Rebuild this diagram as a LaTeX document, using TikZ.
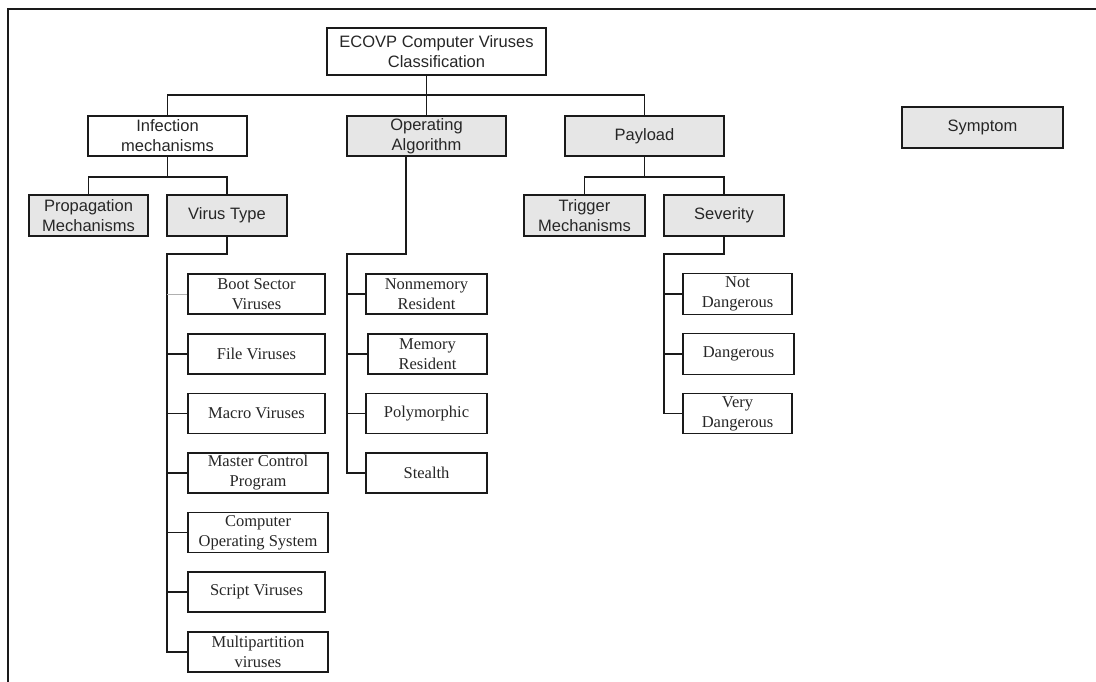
\documentclass[tikz,border=0pt]{standalone}
\usepackage{fontspec}
\setmainfont{Liberation Serif}
\newfontfamily\boxsans{Liberation Sans}
\definecolor{Linecol}{HTML}{1A1A1A}
\definecolor{Fillcol}{HTML}{E6E6E6}
\definecolor{Textcol}{HTML}{262626}
\definecolor{Stubcol}{HTML}{B0B0B0}
\usetikzlibrary{calc, positioning}
\tikzset{
    box/.style={draw=Linecol, line width=1.9pt, text=Textcol, align=center, inner sep=0pt,
        font=\fontsize{16.5}{20}\selectfont},
    catbox/.style={box, font=\boxsans\fontsize{16.5}{20}\selectfont,
        minimum width=159pt, minimum height=40pt},
    subbox/.style={catbox, minimum width=120pt, minimum height=41pt},
    leafbox/.style={box, minimum width=137pt, minimum height=40pt},
    greyfill/.style={fill=Fillcol},
    link/.style={draw=Linecol, line width=1.8pt}
}

\begin{document}
\begin{tikzpicture}[x=1pt, y=-1pt]
    \useasboundingbox (0,0) rectangle (1096,682);

    % Frame
    \draw[Linecol, line width=2pt] (1096,9) -- (8,9) -- (8,682);

    % Top level
    \node[catbox, minimum width=219pt, minimum height=47pt] (root) at (436.5,51.5) {ECOVP Computer Viruses\\Classification};
    \node[catbox] (inf) at (167.5,136) {Infection\\mechanisms};
    \node[catbox, greyfill] (oa) at (426.5,136) {Operating\\Algorithm};
    \node[catbox, greyfill] (pay) at (644.5,136) {Payload};
    \node[catbox, greyfill, minimum width=161pt, minimum height=41pt] (sym) at (982.5,127.5) {Symptom};

    % Second level
    \node[subbox, greyfill, minimum width=119pt] (prop) at (88.5,215.5) {Propagation\\Mechanisms};
    \node[subbox, greyfill] (vt) at (227,215.5) {Virus Type};
    \node[subbox, greyfill, minimum width=121pt] (trig) at (584.5,215.5) {Trigger\\Mechanisms};
    \node[subbox, greyfill] (sev) at (724,215.5) {Severity};

    % Virus types
    \node[leafbox] (bsv) at (256.5,294) {Boot Sector\\Viruses};
    \node[leafbox] (fv) at (256.5,354) {File Viruses};
    \node[leafbox] (mv) at (256.5,413.5) {Macro Viruses};
    \node[leafbox, minimum width=140pt] (mcp) at (258,473) {Master Control\\Program};
    \node[leafbox, minimum width=140pt] (cos) at (258,532.5) {Computer\\Operating System};
    \node[leafbox] (sv) at (256.5,592) {Script Viruses};
    \node[leafbox, minimum width=140pt] (mpv) at (258,652) {Multipartition\\viruses};

    % Operating algorithms
    \node[leafbox, minimum width=121pt] (nmr) at (426.5,294) {Nonmemory\\Resident};
    \node[leafbox, minimum width=119pt] (mr) at (427.5,354) {Memory\\Resident};
    \node[leafbox, minimum width=121pt] (poly) at (426.5,413.5) {Polymorphic};
    \node[leafbox, minimum width=121pt] (st) at (426.5,473) {Stealth};

    % Severity levels
    \node[leafbox, minimum width=109pt, minimum height=41pt] (nd) at (737.5,294) {Not\\Dangerous};
    \node[leafbox, minimum width=111pt, minimum height=41pt] (dg) at (738.5,354) {Dangerous};
    \node[leafbox, minimum width=109pt] (vd) at (737.5,413.5) {Very\\Dangerous};

    % Top connectors
    \draw[link] (root.south -| oa.north) -- (oa.north);
    \draw[link] (inf.north) -- ++(0,-20) -| (pay.north);

    \draw[link] (inf.south) -- ++(0,20) coordinate (infj);
    \draw[link] (prop.north) |- (infj) -| (vt.north);
    \draw[link] (pay.south) -- ++(0,20) coordinate (payj);
    \draw[link] (trig.north) |- (payj) -| (sev.north);

    % Spines
    \coordinate (vtspine) at (167,254);
    \draw[link] (vt.south) |- (vtspine) |- (mpv.west);
    \foreach \n in {fv, mv, mcp, cos, sv}
        \draw[link] (vtspine |- \n.west) -- (\n.west);
    \draw[Stubcol, line width=0.9pt] (vtspine |- bsv.west) -- (bsv.west);

    \coordinate (oaspine) at (347,254);
    \draw[link] ($(oa.south)+(-20.5,0)$) |- (oaspine) |- (st.west);
    \foreach \n in {nmr, mr, poly}
        \draw[link] (oaspine |- \n.west) -- (\n.west);

    \coordinate (sevspine) at (664,254);
    \draw[link] (sev.south) |- (sevspine) |- (vd.west);
    \foreach \n in {nd, dg}
        \draw[link] (sevspine |- \n.west) -- (\n.west);
\end{tikzpicture}
\end{document}
